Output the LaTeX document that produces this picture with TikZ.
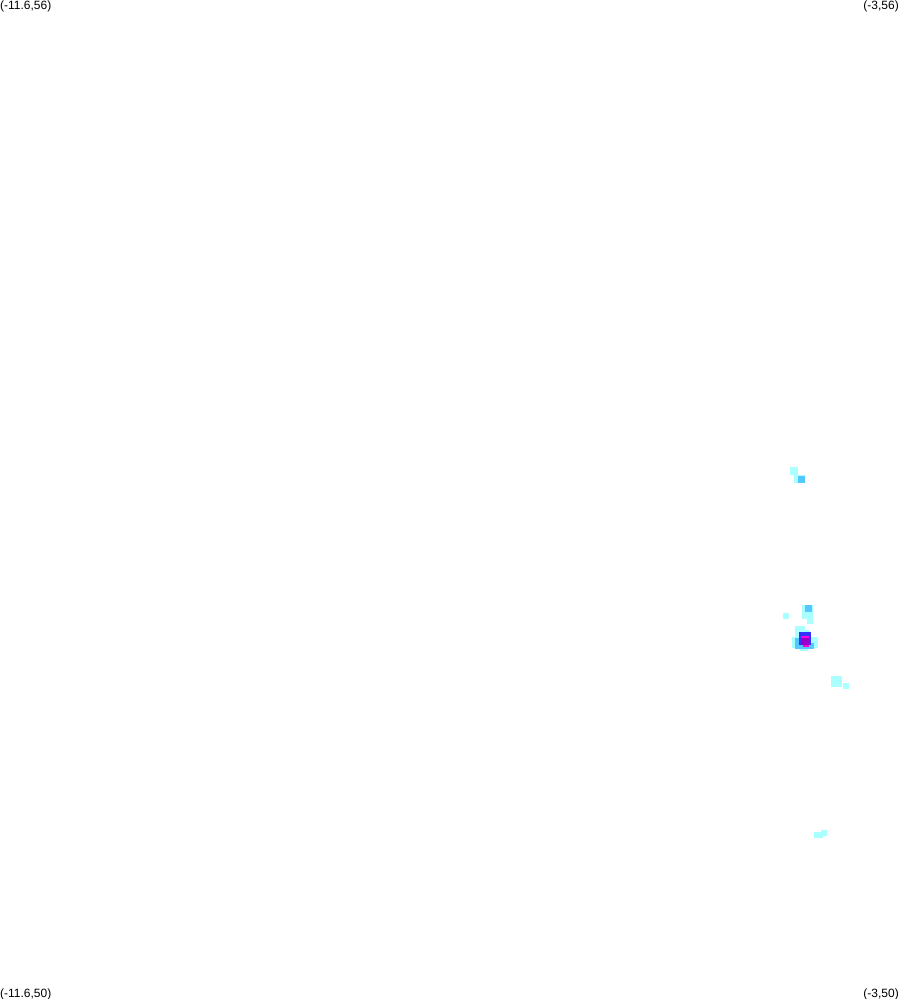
\documentclass[tikz,border=0pt]{standalone}
\usepackage{fontspec}
\setmainfont{Liberation Sans}
\definecolor{pale}{RGB}{170,255,255}
\definecolor{sky}{RGB}{85,200,255}
\definecolor{deepblue}{RGB}{50,50,255}
\definecolor{violet2}{RGB}{150,0,200}
\definecolor{hot}{RGB}{255,0,220}
\tikzstyle{corner} = [inner sep=0pt, font=\fontsize{12pt}{14pt}\selectfont]
\tikzset{
    pale cell/.style={fill=pale},
    sky cell/.style={fill=sky},
    deep cell/.style={fill=deepblue},
    violet cell/.style={fill=violet2},
    hot cell/.style={fill=hot}
}
% cell from pixel box of the image
\newcommand{\cell}[5]{\fill[#1] (#2,-#3) rectangle (#4,-#5);}
\begin{document}
\begin{tikzpicture}[x=1pt,y=1pt]
    \useasboundingbox (0,0) rectangle (899,-999);
    \begin{scope}
    \clip (0,0) rectangle (899,-999);
    \node (topleft) [corner, anchor=north west] at (0,-1) {(-11.6,56)};
    \node (topright) [corner, anchor=north east] at (899,-1) {(-3,56)};
    \node (bottomleft) [corner, anchor=north west] at (0,-989) {(-11.6,50)};
    \node (bottomright) [corner, anchor=north east] at (899,-989) {(-3,50)};
    \end{scope}

    % upper patch
    \cell{pale cell}{790}{467}{798}{475}
    \cell{pale cell}{794}{475}{805}{483}
    \cell{sky cell}{798}{476}{805}{483}
    % middle patch
    \cell{pale cell}{802}{605}{813}{619}
    \cell{sky cell}{805}{605}{812}{612}
    \cell{pale cell}{807}{618}{813}{624}
    \cell{pale cell}{783}{613}{789}{619}
    % main blob
    \cell{pale cell}{795}{626}{805}{637}
    \cell{pale cell}{805}{630}{810}{637}
    \cell{pale cell}{792}{637}{818}{648}
    \cell{pale cell}{800}{648}{808}{651}
    \cell{sky cell}{795}{638}{800}{649}
    \cell{sky cell}{800}{643}{814}{649}
    \cell{deep cell}{799}{632}{811}{645}
    \cell{violet cell}{801}{638}{809}{645}
    \cell{hot cell}{801}{636}{809}{638}
    \cell{hot cell}{803}{645}{809}{647}
    % lower patches
    \cell{pale cell}{831}{676}{842}{687}
    \cell{pale cell}{843}{683}{849}{689}
    \cell{pale cell}{814}{832}{823}{838}
    \cell{pale cell}{821}{830}{827}{836}
\end{tikzpicture}
\end{document}
